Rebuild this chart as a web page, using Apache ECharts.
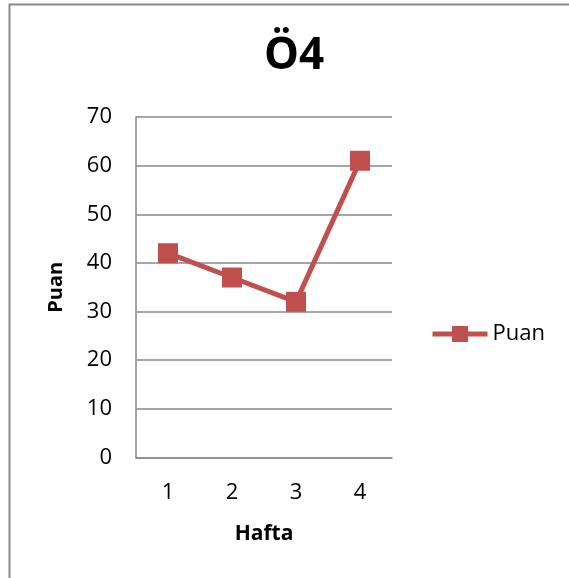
<!DOCTYPE html>
<html>
<head>
<meta charset="utf-8">
<script src="https://cdn.jsdelivr.net/npm/echarts@6/dist/echarts.min.js"></script>
<style>
  html, body { margin: 0; padding: 0; background: #fff; }
  #chart { width: 569px; height: 578px; }
</style>
</head>
<body>
<div id="chart"></div>
<script>
// Weekly scores
const weeks = ['1', '2', '3', '4'];
const scores = [42, 37, 32, 61];
const seriesName = 'Puan';
const titleText = 'Ö4';
const xName = 'Hafta';
const yName = 'Puan';

const font = '"Open Sans", "Noto Sans", sans-serif';
const red = '#C0504D';
const gridGrey = '#898989';

const chart = echarts.init(document.getElementById('chart'), null, { renderer: 'canvas' });
chart.setOption({
  backgroundColor: '#ffffff',
  animation: false,
  textStyle: { fontFamily: font, color: '#000' },
  title: {
    text: titleText,
    left: 259,
    top: 29,
    textStyle: { fontFamily: font, fontSize: 44, fontWeight: 'bold', color: '#000' }
  },
  graphic: [
    {
      type: 'polyline',
      shape: { points: [[9.5, 578], [9.5, 4.5], [569, 4.5]] },
      style: { stroke: '#8a8a8a', lineWidth: 2, fill: null },
      silent: true
    }
  ],
  legend: {
    left: 425,
    top: 318,
    itemWidth: 55,
    itemHeight: 20,
    itemGap: 5,
    data: [seriesName],
    lineStyle: { width: 5 },
    textStyle: { fontFamily: font, fontSize: 22, color: '#000' }
  },
  grid: { left: 136, right: 177, top: 117, bottom: 120.5, containLabel: false },
  xAxis: {
    type: 'category',
    data: weeks,
    boundaryGap: true,
    name: xName,
    nameLocation: 'middle',
    nameGap: 66,
    nameTextStyle: { fontFamily: font, fontSize: 21, fontWeight: 'bold', color: '#000' },
    axisLine: { show: true, lineStyle: { color: gridGrey, width: 1.5 } },
    axisTick: { show: false },
    axisLabel: { margin: 24, fontSize: 22, color: '#000', fontFamily: font },
    splitLine: { show: false }
  },
  yAxis: {
    type: 'value',
    min: 0,
    max: 70,
    interval: 10,
    name: yName,
    nameLocation: 'middle',
    nameGap: 70,
    nameRotate: 90,
    nameTextStyle: { fontFamily: font, fontSize: 20, fontWeight: 'bold', color: '#000' },
    axisLine: { show: true, lineStyle: { color: gridGrey, width: 1.5 } },
    axisTick: { show: false },
    axisLabel: { margin: 24, fontSize: 22, color: '#000', fontFamily: font },
    splitLine: { show: true, lineStyle: { color: gridGrey, width: 1.5 } }
  },
  series: [
    {
      name: seriesName,
      type: 'line',
      data: scores,
      symbol: 'rect',
      symbolSize: 20,
      lineStyle: { color: red, width: 5 },
      itemStyle: { color: red },
      z: 5
    }
  ]
});
</script>
</body>
</html>
